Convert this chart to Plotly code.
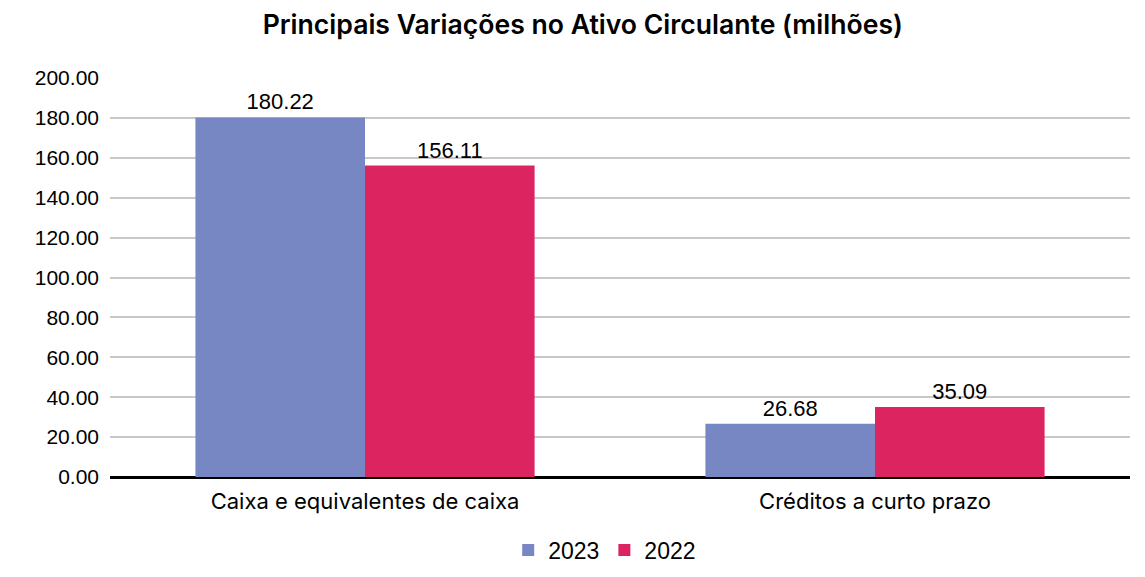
import plotly.graph_objects as go

categories = ["Caixa e equivalentes de caixa", "Créditos a curto prazo"]
values_2023 = [180.22, 26.68]
values_2022 = [156.11, 35.09]
tick_vals = [0, 20, 40, 60, 80, 100, 120, 140, 160, 180, 200]
tick_text = [f"{v:.2f}" for v in tick_vals]

num_font = dict(family="Liberation Sans, Arial, sans-serif", size=22, color="#000000")
cat_font = dict(family="Inter, Roboto, sans-serif", size=22, color="#000000")

fig = go.Figure()
fig.add_trace(go.Bar(
    name="2023", x=categories, y=values_2023,
    marker=dict(color="#7787C3", line=dict(width=0)),
    text=[f"{v:.2f}" for v in values_2023], textposition="outside",
    textfont=num_font, cliponaxis=False,
))
fig.add_trace(go.Bar(
    name="2022", x=categories, y=values_2022,
    marker=dict(color="#DC2461", line=dict(width=0)),
    text=[f"{v:.2f}" for v in values_2022], textposition="outside",
    textfont=num_font, cliponaxis=False,
))

fig.update_layout(
    width=1145, height=577,
    margin=dict(l=110, r=15, t=78, b=100, autoexpand=False),
    paper_bgcolor="white", plot_bgcolor="white",
    barmode="group", bargap=0.335, bargroupgap=0,
    title=dict(
        text="Principais Variações no Ativo Circulante (milhões)",
        x=0.509, xanchor="center", y=0.957, yanchor="middle",
        font=dict(family="Inter, Roboto, sans-serif", size=26.6, weight=600, color="#000000"),
    ),
    xaxis=dict(
        showgrid=False, showline=False, ticks="",
        tickfont=cat_font, ticklabelstandoff=9,
    ),
    yaxis=dict(
        range=[0, 200], tickvals=tick_vals, ticktext=tick_text,
        showgrid=True, gridcolor="#C8C8C8", gridwidth=1.5,
        zeroline=True, zerolinecolor="#000000", zerolinewidth=2.5,
        showline=False, ticks="", ticklabelstandoff=10,
        tickfont=dict(family="Liberation Sans, Arial, sans-serif", size=21, color="#000000"),
    ),
    legend=dict(
        orientation="h", x=0.485, xanchor="center", y=-0.183, yanchor="middle",
        font=dict(family="Liberation Sans, Arial, sans-serif", size=23, color="#000000"),
        itemwidth=30, traceorder="normal",
    ),
    showlegend=True,
)

fig.write_html("out.html")
